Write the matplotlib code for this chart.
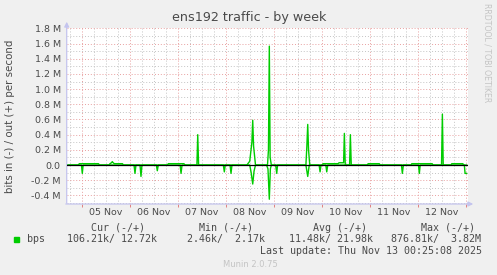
import numpy as np
import matplotlib
matplotlib.use("Agg")
import matplotlib.pyplot as plt
from matplotlib.ticker import FixedLocator, MultipleLocator

# time axis = days since 04 Nov 00:00, values in Mbit/s
out_days = [0.684, 0.93, 0.95, 1.35, 1.37, 1.57, 1.59, 1.62, 1.6375, 1.655, 1.68, 1.85, 1.867,
            2.785, 2.804, 3.13, 3.152, 3.40, 3.417, 3.435, 4.44, 4.50, 4.545, 4.5625, 4.58, 4.62,
            4.87, 4.89, 4.908, 4.925, 4.95, 5.67, 5.69, 5.708, 5.725, 5.75, 6.01, 6.027, 6.34,
            6.36, 6.455, 6.471, 6.49, 6.58, 6.596, 6.615, 6.95, 6.965, 7.20, 7.215, 7.86, 7.875,
            8.30, 8.319, 8.495, 8.5125, 8.53, 8.69, 8.708, 8.94, 8.95, 9.017]
out_mbps = [0, 0, 0.018, 0.018, 0, 0, 0.018, 0.03, 0.045, 0.03, 0.018, 0.018, 0,
            0, 0.018, 0.018, 0, 0, 0.40, 0, 0, 0.05, 0.30, 0.59, 0.25, 0,
            0, 0.20, 1.566, 0.10, 0, 0, 0.25, 0.535, 0.20, 0, 0, 0.018, 0.018,
            0.03, 0.03, 0.417, 0, 0, 0.40, 0, 0, 0.018, 0.018, 0, 0, 0.018,
            0.018, 0, 0, 0.67, 0, 0, 0.018, 0.018, 0, 0]

in_days = [0.684, 0.995, 1.0125, 1.03, 2.09, 2.11, 2.13, 2.215, 2.235, 2.255, 2.555, 2.575, 2.595,
           3.05, 3.069, 3.09, 3.95, 3.971, 3.99, 4.09, 4.11, 4.13, 4.50, 4.53, 4.5625, 4.59, 4.62,
           4.85, 4.88, 4.908, 4.93, 4.95, 5.04, 5.0625, 5.08, 5.67, 5.708, 5.74, 5.945, 5.965,
           5.985, 6.085, 6.104, 6.125, 7.66, 7.679, 7.70, 8.015, 8.033, 8.05, 8.97, 8.985, 9.017]
in_mbps = [0, 0, 0.11, 0, 0, 0.11, 0, 0, 0.15, 0, 0, 0.075, 0,
           0, 0.11, 0, 0, 0.09, 0, 0, 0.11, 0, 0, 0.10, 0.25, 0.08, 0,
           0, 0.05, 0.45, 0.05, 0, 0, 0.11, 0, 0, 0.15, 0, 0, 0.09,
           0, 0, 0.09, 0, 0, 0.11, 0, 0, 0.11, 0, 0, 0.11, 0.11]

day_labels = ['05 Nov', '06 Nov', '07 Nov', '08 Nov', '09 Nov', '10 Nov', '11 Nov', '12 Nov']
y_ticks = [-0.4, -0.2, 0.0, 0.2, 0.4, 0.6, 0.8, 1.0, 1.2, 1.4, 1.6, 1.8]
y_tick_labels = ['-0.4 M', '-0.2 M', '0.0', '0.2 M', '0.4 M', '0.6 M', '0.8 M', '1.0 M',
                 '1.2 M', '1.4 M', '1.6 M', '1.8 M']

cur = ('106.21k', '12.72k')
mn = ('2.46k', '2.17k')
avg = ('11.48k', '21.98k')
mx = ('876.81k', '3.82M')
last_update = 'Last update: Thu Nov 13 00:25:08 2025'

W, H = 497, 275
TXT = '#4a4a4a'
GREEN = '#00cc00'
AXC = '#c4c4ee'

def fx(px):
    return px / W

def fy(py):
    return 1 - py / H

fig = plt.figure(figsize=(W / 100, H / 100), dpi=100, facecolor='#f0f0f0')
ax = fig.add_axes([fx(67), fy(204), fx(467.7) - fx(67), fy(28) - fy(204)])
ax.set_facecolor('white')
for s in ax.spines.values():
    s.set_visible(False)

ax.set_xlim(0.694, 9.04)
ax.set_ylim(-0.513, 1.805)

ax.xaxis.set_major_locator(MultipleLocator(1))
ax.xaxis.set_minor_locator(MultipleLocator(0.25))
ax.yaxis.set_major_locator(FixedLocator(y_ticks))
ax.yaxis.set_minor_locator(MultipleLocator(0.1))
ax.set_yticklabels(y_tick_labels)
ax.set_xticklabels([])
ax.grid(which='minor', color='#c4c4c4', linestyle=(0, (1, 2)), lw=0.7)
ax.grid(which='major', color='#e8a0a0', linestyle=(0, (1, 2)), lw=0.7)
ax.tick_params(axis='y', which='both', length=0, pad=4.5, labelsize=6.8, labelcolor=TXT)
ax.tick_params(axis='x', which='major', length=2.2, color='#e08080', width=0.7)
ax.tick_params(axis='x', which='minor', length=0)

for i, lab in enumerate(day_labels):
    ax.text(i + 1.5, -0.57, lab, ha='center', va='top', fontsize=6.8, color=TXT,
            transform=ax.transData, clip_on=False)

ax.plot(out_days, out_mbps, color=GREEN, lw=1.0, zorder=3)
ax.plot(in_days, -np.array(in_mbps), color=GREEN, lw=1.0, zorder=3)
ax.axhline(0, color='black', lw=0.9, zorder=4)

# axis arrows
ax.annotate('', xy=(66.7, H - 19), xytext=(66.7, H - 206), xycoords='figure pixels',
            textcoords='figure pixels',
            arrowprops=dict(arrowstyle='-|>', color=AXC, lw=0.9, mutation_scale=7))
ax.annotate('', xy=(476, H - 204), xytext=(63, H - 204), xycoords='figure pixels',
            textcoords='figure pixels',
            arrowprops=dict(arrowstyle='-|>', color=AXC, lw=0.9, mutation_scale=7))

fig.text(fx(248.7), fy(18), 'ens192 traffic - by week', ha='center', va='center',
         fontsize=9.2, color=TXT)
fig.text(fx(10), fy(116), 'bits in (-) / out (+) per second', rotation=90,
         ha='center', va='center', fontsize=7.4, color=TXT)
fig.text(fx(487), fy(53), 'RRDTOOL / TOBI OETIKER', rotation=270, ha='center',
         va='center', fontsize=5.6, color='#c4c4c4')

mono = 'DejaVu Sans Mono'
header = ' ' * 4 + 'Cur (-/+)' + ' ' * 9 + 'Min (-/+)' + ' ' * 10 + 'Avg (-/+)' + ' ' * 9 + 'Max (-/+)'
values = (cur[0] + '/ ' + cur[1] + ' ' * 5 + mn[0] + '/  ' + mn[1] + ' ' * 4
          + avg[0] + '/ ' + avg[1] + ' ' * 3 + mx[0] + '/  ' + mx[1])
fig.text(fx(66.7), fy(227.7), header, family=mono, fontsize=7.2, color=TXT, va='center')
fig.text(fx(66.7), fy(239.3), values, family=mono, fontsize=7.2, color=TXT, va='center')
fig.text(fx(26.7), fy(239.3), 'bps', family=mono, fontsize=7.2, color=TXT, va='center')
fig.patches.append(plt.Rectangle((fx(14), fy(241.5)), fx(4.5), 4.5 / H, color=GREEN,
                                 transform=fig.transFigure, figure=fig))
fig.text(fx(482.5), fy(251), last_update, family=mono, fontsize=7.2, color=TXT,
         va='center', ha='right')
fig.text(fx(250), fy(264.3), 'Munin 2.0.75', ha='center', va='center', fontsize=6.0,
         color='#c4c4c4')

fig.savefig('out.png', dpi=100, facecolor=fig.get_facecolor())
